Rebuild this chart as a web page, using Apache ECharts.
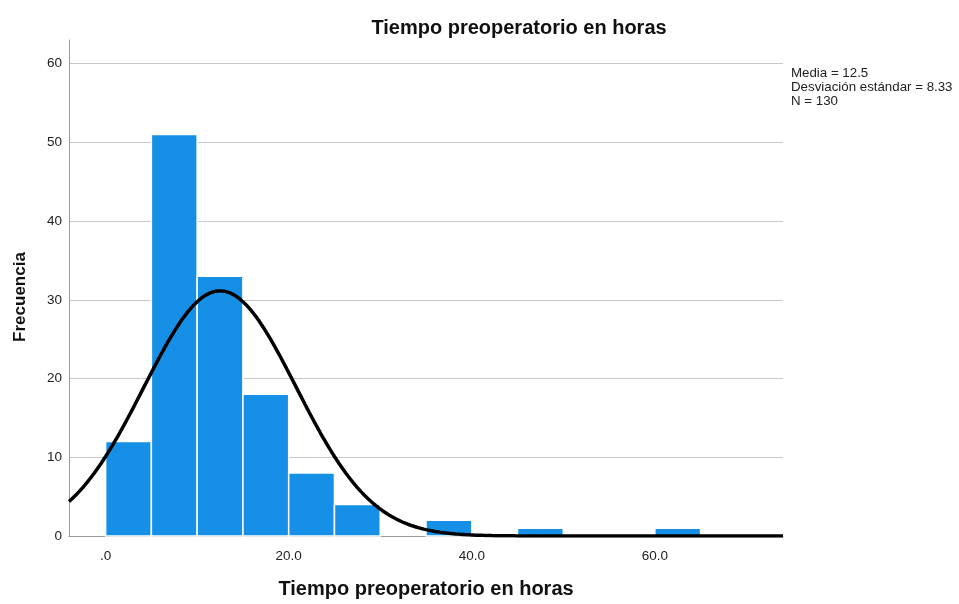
<!DOCTYPE html>
<html>
<head>
<meta charset="utf-8">
<script src="https://cdn.jsdelivr.net/npm/echarts@6/dist/echarts.min.js"></script>
<style>
  html, body { margin: 0; padding: 0; background: #fff; }
  #chart { width: 959px; height: 604px; }
</style>
</head>
<body>
<div id="chart"></div>
<script>
// Histogram bins (hours) and their counts
const binStarts = [0, 5, 10, 15, 20, 25, 30, 35, 40, 45, 50, 55, 60];
const binWidth = 5;
const counts = [12, 51, 33, 18, 8, 4, 0, 2, 0, 1, 0, 0, 1];

// Summary statistics shown beside the plot
const mean = 12.5;
const stdDev = 8.33;
const total = 130;

const xTickValues = [0, 20, 40, 60];
const yTickValues = [0, 10, 20, 30, 40, 50, 60];

const barData = binStarts.map((s, i) => [s, s + binWidth, counts[i]]);

// Fitted normal curve, scaled to the histogram's frequency units
const curve = [];
for (let x = -4; x <= 74.001; x += 0.25) {
  const z = (x - mean) / stdDev;
  const y = total * binWidth / (stdDev * Math.sqrt(2 * Math.PI)) * Math.exp(-0.5 * z * z);
  curve.push([x, y]);
}

const font = '"Liberation Sans", Arial, sans-serif';
const chart = echarts.init(document.getElementById('chart'));

chart.setOption({
  animation: false,
  backgroundColor: '#fff',
  grid: { left: 69, right: 176, top: 40, bottom: 63 },
  xAxis: {
    type: 'value',
    min: -4,
    max: 74,
    name: 'Tiempo preoperatorio en horas',
    nameLocation: 'middle',
    nameGap: 43,
    nameTextStyle: { fontFamily: font, fontSize: 20, fontWeight: 'bold', color: '#111' },
    axisLine: { show: true, onZero: false, lineStyle: { color: '#9a9a9a', width: 1 } },
    axisTick: { show: false },
    splitLine: { show: false },
    axisLabel: {
      customValues: xTickValues,
      fontFamily: font, fontSize: 13.5, color: '#222', margin: 13,
      formatter: v => (v === 0 ? '.0' : v.toFixed(1))
    }
  },
  yAxis: {
    type: 'value',
    min: 0,
    max: 63,
    axisLine: { show: true, onZero: false, lineStyle: { color: '#9a9a9a', width: 1 } },
    axisTick: { show: false },
    splitLine: { show: true, showMaxLine: false, lineStyle: { color: '#c8c8c8', width: 1 } },
    axisLabel: {
      customValues: yTickValues,
      fontFamily: font, fontSize: 13.5, color: '#222', margin: 7,
      padding: [7, 0, 0, 0]
    }
  },
  title: {
    text: 'Tiempo preoperatorio en horas',
    left: 514,
    textAlign: 'center',
    top: 13,
    textStyle: { fontFamily: font, fontSize: 20, fontWeight: 'bold', color: '#111' }
  },
  graphic: [
    {
      // Vertical axis title
      type: 'text',
      x: 20,
      y: 297,
      rotation: Math.PI / 2,
      style: {
        text: 'Frecuencia',
        font: 'bold 17px ' + font,
        fill: '#111',
        align: 'center',
        verticalAlign: 'middle'
      }
    },
    {
      type: 'text',
      left: 791,
      top: 66,
      style: {
        text: 'Media = ' + mean + '\nDesviación estándar = ' + stdDev + '\nN = ' + total,
        font: '13.3px ' + font,
        fill: '#222',
        lineHeight: 14
      }
    }
  ],
  series: [
    {
      type: 'custom',
      data: barData,
      encode: { x: [0, 1], y: 2 },
      z: 2,
      renderItem: (params, api) => {
        const h = api.value(2);
        if (!h) return null;
        const p0 = api.coord([api.value(0), h]);
        const p1 = api.coord([api.value(1), 0]);
        return {
          type: 'rect',
          shape: { x: p0[0], y: p0[1], width: p1[0] - p0[0], height: p1[1] - p0[1] },
          style: { fill: '#1590e6', stroke: '#ffffff', lineWidth: 1.5 }
        };
      }
    },
    {
      type: 'line',
      data: curve,
      showSymbol: false,
      z: 3,
      lineStyle: { color: '#000', width: 3.5 }
    }
  ]
});
</script>
</body>
</html>
